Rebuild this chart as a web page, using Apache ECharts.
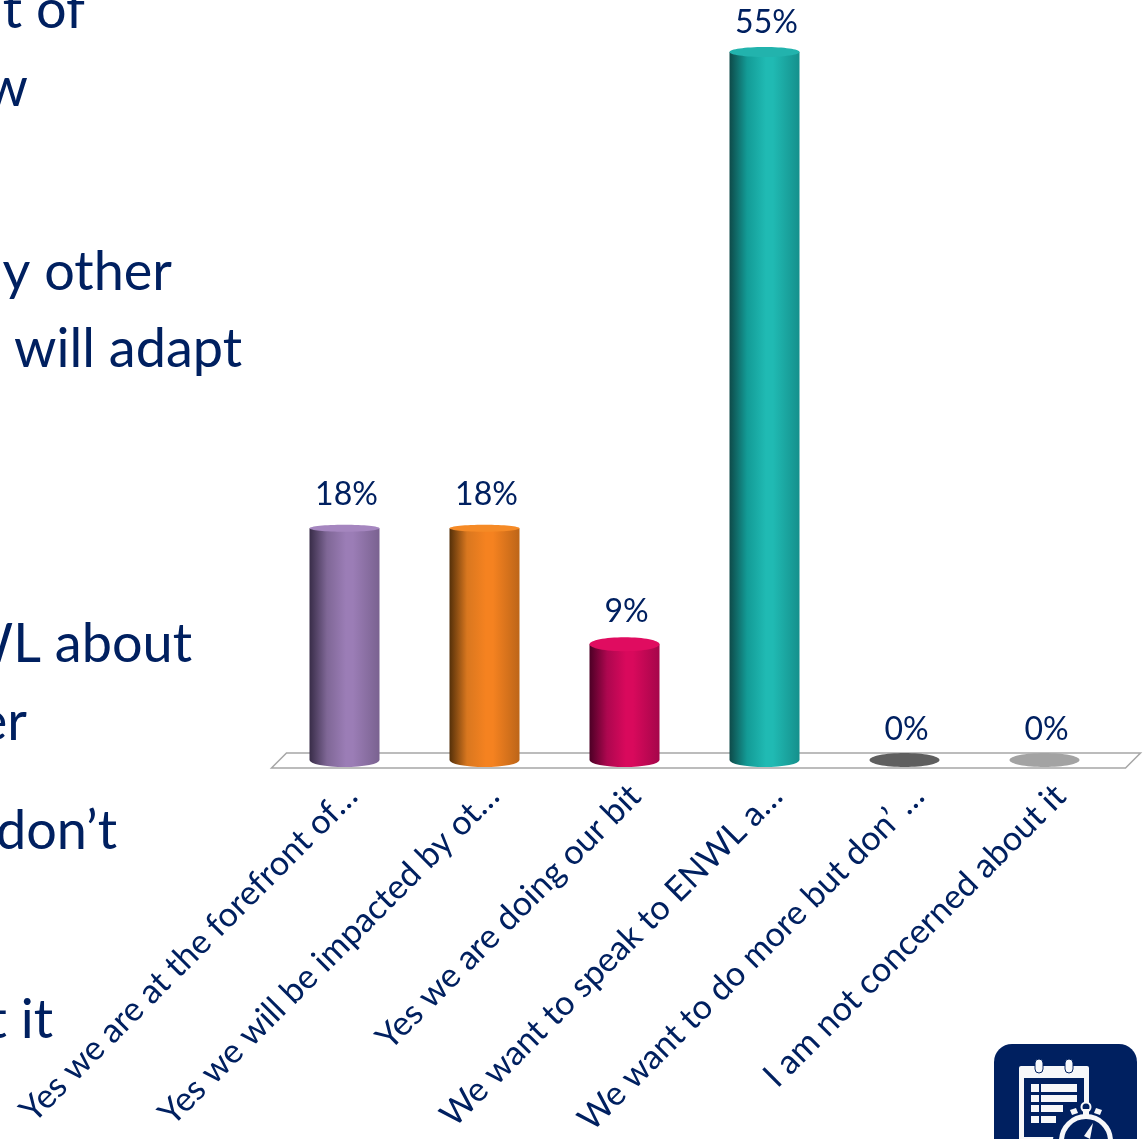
<!DOCTYPE html>
<html>
<head>
<meta charset="utf-8">
<style>html,body{margin:0;padding:0;background:#fff;overflow:hidden}#chart{width:1144px;height:1139px}</style>
<script src="https://cdn.jsdelivr.net/npm/echarts@6/dist/echarts.min.js"></script>
</head>
<body>
<div id="chart"></div>
<script>
// Survey responses, in percent
const categories = [
  'Yes we are at the forefront of…',
  'Yes we will be impacted by ot…',
  'Yes we are doing our bit',
  'We want to speak to ENWL a…',
  'We want to do more but don’ …',
  'I am not concerned about it'
];
const responseShare = [18, 18, 9, 55, 0, 0];

// Side shading of each cylinder: shadow, body, highlight, far edge
const shadeStops = [
  ['#382c48', '#7f6796', '#9b7db6', '#7a6290'],
  ['#553009', '#d9771f', '#f58220', '#bd6518'],
  ['#4c0025', '#ad074f', '#d9095c', '#a5064a'],
  ['#0e4a49', '#139b96', '#20bab3', '#15908c']
];
const capColours = ['#a586bf', '#f58a26', '#e00c60', '#22b3ad', '#5f5f5f', '#a3a3a3'];
const capDepth = [3.5, 3.5, 7, 5, 7, 7];
const labelLift = [34, 34, 32, 29, 30, 30];

// Fragments of the slide's body copy, cut off by the left edge
const sideText = [
  ['nt of', 85, 11], ['w', 28, 89], ['y other', 172, 273], ['will adapt', 242, 350],
  ['WL about', 192, 645], ['er', 27, 723], ['don’t', 117, 832], ['t it', 53, 1021]
];

const NAVY = '#002060';
const FONT = 'Lato, sans-serif';
const BAR_WIDTH = 70;
const BASE_DEPTH = 7;

function renderCylinder(params, api) {
  const i = api.value(0);
  const v = api.value(1);
  const top = api.coord([i, v]);
  const base = api.coord([i, 0]);
  const rx = BAR_WIDTH / 2;
  const cx = base[0];
  const ry = capDepth[i];
  const children = [];
  if (v > 0) {
    const s = shadeStops[i];
    const fill = new echarts.graphic.LinearGradient(0, 0, 1, 0, [
      { offset: 0, color: s[0] },
      { offset: 0.25, color: s[1] },
      { offset: 0.52, color: s[2] },
      { offset: 0.62, color: s[2] },
      { offset: 1, color: s[3] }
    ]);
    children.push({
      type: 'path',
      shape: {
        pathData: `M${cx - rx} ${top[1]}L${cx - rx} ${base[1]}A${rx} ${BASE_DEPTH} 0 0 0 ${cx + rx} ${base[1]}L${cx + rx} ${top[1]}Z`
      },
      style: { fill }
    });
  }
  children.push({
    type: 'ellipse',
    shape: { cx, cy: top[1], rx, ry },
    style: { fill: capColours[i] }
  });
  children.push({
    type: 'text',
    style: {
      text: v + '%', x: cx + 2, y: top[1] - labelLift[i],
      align: 'center', verticalAlign: 'middle',
      fill: NAVY, font: '32px ' + FONT
    }
  });
  return { type: 'group', children };
}

function renderFloor(params) {
  const g = params.coordSys;
  const y = g.y + g.height;
  const points = [
    [g.x - 3, y + 8], [g.x + 12, y - 7],
    [g.x + g.width + 26, y - 7], [g.x + g.width + 11, y + 8]
  ];
  return {
    type: 'polygon',
    shape: { points },
    style: { fill: '#fff', stroke: '#a6a6a6', lineWidth: 1.5 }
  };
}

// Clipboard-and-stopwatch badge in the lower right corner
const badge = [
  { type: 'rect', shape: { x: 994, y: 1044, width: 143, height: 120, r: 18 }, style: { fill: '#002060' } },
  { type: 'rect', shape: { x: 1019, y: 1066, width: 70, height: 80, r: 2 }, style: { fill: '#f7f8fa' } },
  { type: 'rect', shape: { x: 1024, y: 1078, width: 60, height: 59 }, style: { fill: '#002060' } },
  { type: 'rect', shape: { x: 1035, y: 1059, width: 8, height: 14, r: 4 }, style: { fill: '#f7f8fa', stroke: '#002060', lineWidth: 1 } },
  { type: 'rect', shape: { x: 1065, y: 1059, width: 8, height: 14, r: 4 }, style: { fill: '#f7f8fa', stroke: '#002060', lineWidth: 1 } },
  { type: 'rect', shape: { x: 1031, y: 1084, width: 8, height: 8 }, style: { fill: '#f7f8fa' } },
  { type: 'rect', shape: { x: 1041, y: 1084, width: 36, height: 8 }, style: { fill: '#f7f8fa' } },
  { type: 'rect', shape: { x: 1031, y: 1095, width: 8, height: 7 }, style: { fill: '#f7f8fa' } },
  { type: 'rect', shape: { x: 1041, y: 1095, width: 36, height: 7 }, style: { fill: '#f7f8fa' } },
  { type: 'rect', shape: { x: 1031, y: 1105, width: 8, height: 7 }, style: { fill: '#f7f8fa' } },
  { type: 'rect', shape: { x: 1041, y: 1105, width: 22, height: 7 }, style: { fill: '#f7f8fa' } },
  { type: 'rect', shape: { x: 1031, y: 1116, width: 8, height: 7 }, style: { fill: '#f7f8fa' } },
  { type: 'rect', shape: { x: 1041, y: 1116, width: 15, height: 7 }, style: { fill: '#f7f8fa' } },
  { type: 'circle', shape: { cx: 1086, cy: 1141, r: 33 }, style: { fill: '#002060' } },
  { type: 'circle', shape: { cx: 1086, cy: 1141, r: 24.5 }, style: { fill: '#002060', stroke: '#f7f8fa', lineWidth: 5 } },
  { type: 'circle', shape: { cx: 1086, cy: 1107, r: 4.5 }, style: { fill: '#002060', stroke: '#f7f8fa', lineWidth: 2 } },
  { type: 'rect', shape: { x: 1083, y: 1109, width: 6, height: 6 }, style: { fill: '#f7f8fa' } },
  { type: 'polygon', shape: { points: [[1070, 1110], [1076, 1108], [1078, 1113], [1072, 1115]] }, style: { fill: '#f7f8fa' } },
  { type: 'polygon', shape: { points: [[1096, 1108], [1102, 1110], [1100, 1115], [1094, 1113]] }, style: { fill: '#f7f8fa' } },
  { type: 'polygon', shape: { points: [[1093, 1123], [1090, 1139], [1084, 1136]] }, style: { fill: '#f7f8fa' } }
];

const sideLabels = sideText.map(([text, x, y]) => ({
  type: 'text',
  style: { text, x, y, align: 'right', verticalAlign: 'middle', fill: NAVY, font: '54px ' + FONT }
}));

const chart = echarts.init(document.getElementById('chart'), null, { renderer: 'canvas' });
chart.setOption({
  backgroundColor: '#ffffff',
  animation: false,
  // The second grid only carries the slanted labels, set slightly right of the bars
  grid: [
    { left: 274.5, top: 52, width: 840, height: 708 },
    { left: 281, top: 52, width: 850, height: 708 }
  ],
  xAxis: [
    { type: 'category', gridIndex: 0, data: categories, axisLine: { show: false }, axisTick: { show: false }, axisLabel: { show: false } },
    {
      type: 'category', gridIndex: 1, data: categories,
      axisLine: { show: false }, axisTick: { show: false },
      axisLabel: { interval: 0, rotate: 45, margin: 38, color: NAVY, fontFamily: 'Lato', fontSize: 34 }
    }
  ],
  yAxis: [
    { type: 'value', gridIndex: 0, min: 0, max: 55, show: false },
    { type: 'value', gridIndex: 1, min: 0, max: 55, show: false }
  ],
  series: [
    {
      type: 'custom', xAxisIndex: 0, yAxisIndex: 0, z: 1, silent: true, clip: false,
      renderItem: renderFloor, data: [[0, 0]]
    },
    {
      type: 'custom', xAxisIndex: 0, yAxisIndex: 0, z: 2, silent: true, clip: false,
      renderItem: renderCylinder,
      encode: { x: 0, y: 1 },
      data: responseShare.map((v, i) => [i, v])
    }
  ],
  graphic: { elements: [...sideLabels, ...badge] }
});
</script>
</body>
</html>
